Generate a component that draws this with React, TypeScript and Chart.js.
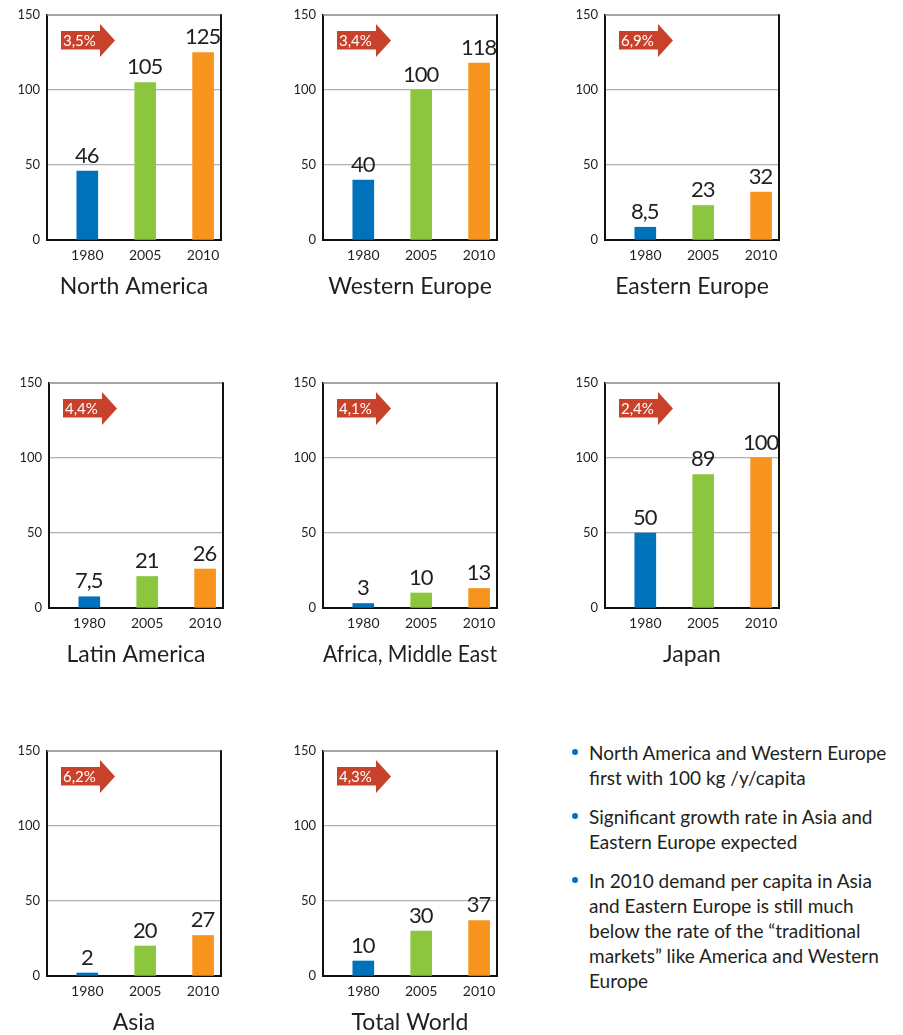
import React, { useEffect, useRef } from "react";
import { Chart, registerables } from "chart.js";

Chart.register(...registerables);

// ---------- data ----------
const years = ["1980", "2005", "2010"];
const yTicks = [0, 50, 100, 150];
const regions = [
  "North America",
  "Western Europe",
  "Eastern Europe",
  "Latin America",
  "Africa, Middle East",
  "Japan",
  "Asia",
  "Total World",
];
const growthRates = ["3,5%", "3,4%", "6,9%", "4,4%", "4,1%", "2,4%", "6,2%", "4,3%"];
const northAmerica = [46, 105, 125];
const westernEurope = [40, 100, 118];
const easternEurope = [8.5, 23, 32];
const latinAmerica = [7.5, 21, 26];
const africaMiddleEast = [3, 10, 13];
const japan = [50, 89, 100];
const asia = [2, 20, 27];
const totalWorld = [10, 30, 37];
const seriesValues = [
  northAmerica,
  westernEurope,
  easternEurope,
  latinAmerica,
  africaMiddleEast,
  japan,
  asia,
  totalWorld,
];
const bullets = [
  ["North America and Western Europe", "first with 100 kg /y/capita"],
  ["Significant growth rate in Asia and", "Eastern Europe expected"],
  [
    "In 2010 demand per capita in Asia",
    "and Eastern Europe is still much",
    "below the rate of the \u201Ctraditional",
    "markets\u201D like America and Western",
    "Europe",
  ],
];

// ---------- layout / style ----------
const FONT = "Lato, 'Noto Sans', sans-serif";
const TEXT = "#231f20";
const BAR_COLORS = ["#0072bc", "#8cc63f", "#f7941d"];
const ARROW = "#c8412b";
const panelPos = [
  [47, 15],
  [323, 15],
  [605, 15],
  [49, 383],
  [323, 383],
  [605, 383],
  [47, 750.5],
  [323, 750.5],
];
const AXIS_W = 47;
const PLOT_W = 174;
const PLOT_H = 225;
const PAD_TOP = 15;
const X_H = 60;
const CANVAS_W = AXIS_W + PLOT_W + 19;
const CANVAS_H = PAD_TOP + PLOT_H + X_H;

const fmt = (v: number) => String(v).replace(".", ",");

function Panel({ title, values, growth, left, top }: { title: string; values: number[]; growth: string; left: number; top: number }) {
  const ref = useRef<HTMLCanvasElement | null>(null);
  useEffect(() => {
    if (!ref.current) return;
    const framePlugin = {
      id: "frame",
      afterDraw(chart: any) {
        const { ctx, chartArea: a } = chart;
        ctx.save();
        ctx.strokeStyle = "#888";
        ctx.lineWidth = 1.5;
        ctx.beginPath();
        ctx.moveTo(a.left, a.top);
        ctx.lineTo(a.right, a.top);
        ctx.stroke();
        ctx.strokeStyle = "#111";
        ctx.lineWidth = 2;
        ctx.beginPath();
        ctx.moveTo(a.right, a.top - 0.75);
        ctx.lineTo(a.right, a.bottom + 1);
        ctx.stroke();
        ctx.restore();
      },
    };
    const labelPlugin = {
      id: "valueLabels",
      afterDatasetsDraw(chart: any) {
        const { ctx } = chart;
        const meta = chart.getDatasetMeta(0);
        ctx.save();
        ctx.font = `22px ${FONT}`;
        try {
          (ctx as any).letterSpacing = "-1px";
        } catch (e) {}
        ctx.fillStyle = TEXT;
        ctx.textAlign = "center";
        ctx.textBaseline = "alphabetic";
        meta.data.forEach((el: any, i: number) => {
          ctx.fillText(fmt(values[i]), el.x - 0.5, el.y - 8.5);
        });
        ctx.restore();
      },
    };
    const arrowPlugin = {
      id: "growthArrow",
      afterDraw(chart: any) {
        const { ctx, chartArea: a } = chart;
        const x = a.left, y = a.top;
        ctx.save();
        ctx.fillStyle = ARROW;
        ctx.beginPath();
        ctx.moveTo(x + 14, y + 16);
        ctx.lineTo(x + 53, y + 16);
        ctx.lineTo(x + 53, y + 9);
        ctx.lineTo(x + 68, y + 25.5);
        ctx.lineTo(x + 53, y + 42);
        ctx.lineTo(x + 53, y + 34.5);
        ctx.lineTo(x + 14, y + 34.5);
        ctx.closePath();
        ctx.fill();
        ctx.fillStyle = "#fff";
        ctx.font = `15px ${FONT}`;
        ctx.textAlign = "left";
        ctx.textBaseline = "middle";
        ctx.fillText(growth, x + 16, y + 26);
        ctx.restore();
      },
    };
    const chart = new Chart(ref.current, {
      type: "bar",
      data: {
        datasets: [
          {
            data: values.map((v, i) => ({ x: i, y: v })),
            backgroundColor: BAR_COLORS,
            borderWidth: 0,
            barThickness: 21,
          } as any,
        ],
      },
      options: {
        animation: false,
        responsive: false,
        layout: { padding: { top: PAD_TOP, left: 0, right: CANVAS_W - AXIS_W - PLOT_W, bottom: 0 } },
        plugins: { legend: { display: false }, tooltip: { enabled: false } },
        scales: {
          x: {
            type: "linear",
            offset: false,
            min: -0.696,
            max: 2.309,
            afterBuildTicks: (s: any) => {
              s.ticks = years.map((_, i) => ({ value: i }));
            },
            afterFit: (s: any) => {
              s.height = X_H;
            },
            ticks: {
              callback: (v: any) => years[v as number] ?? "",
              font: { family: FONT, size: 14 },
              color: TEXT,
              padding: 7,
              maxRotation: 0,
              autoSkip: false,
            },
            grid: { display: false, drawTicks: false, offset: false },
            border: { display: true, color: "#111", width: 2 },
            title: { display: true, text: title, font: { family: FONT, size: 23 }, color: TEXT, padding: 0 },
          },
          y: {
            min: 0,
            max: 150,
            afterBuildTicks: (s: any) => {
              s.ticks = yTicks.map((v) => ({ value: v }));
            },
            afterFit: (s: any) => {
              s.width = AXIS_W;
            },
            ticks: { font: { family: FONT, size: 13 }, color: TEXT, padding: 7 },
            grid: {
              drawTicks: false,
              lineWidth: 1.2,
              color: (c: any) => (c.tick && (c.tick.value === 50 || c.tick.value === 100) ? "#b0b0b0" : "rgba(0,0,0,0)"),
            },
            border: { display: true, color: "#111", width: 2 },
          },
        },
      } as any,
      plugins: [framePlugin, labelPlugin, arrowPlugin],
    });
    return () => chart.destroy();
  }, [title, values, growth]);
  return (
    <canvas
      ref={ref}
      width={CANVAS_W}
      height={CANVAS_H}
      style={{ position: "absolute", left: left - AXIS_W, top: top - PAD_TOP, width: CANVAS_W, height: CANVAS_H }}
    />
  );
}

export default function App() {
  return (
    <div style={{ position: "absolute", left: 0, top: 0, width: 903, height: 1035, background: "#fff", overflow: "hidden" }}>
      {regions.map((r, i) => (
        <Panel key={r} title={r} values={seriesValues[i]} growth={growthRates[i]} left={panelPos[i][0]} top={panelPos[i][1]} />
      ))}
      <div style={{ position: "absolute", left: 570, top: 739.5, fontFamily: FONT, fontSize: 19, lineHeight: "25px", color: TEXT }}>
        {bullets.map((lines, i) => (
          <div key={i} style={{ position: "relative", paddingLeft: 19, marginBottom: 14, whiteSpace: "nowrap" }}>
            <span
              style={{ position: "absolute", left: 2, top: 9.5, width: 6, height: 6, borderRadius: 3, background: "#0072bc" }}
            />
            {lines.map((l, j) => (
              <div key={j}>{l}</div>
            ))}
          </div>
        ))}
      </div>
    </div>
  );
}
